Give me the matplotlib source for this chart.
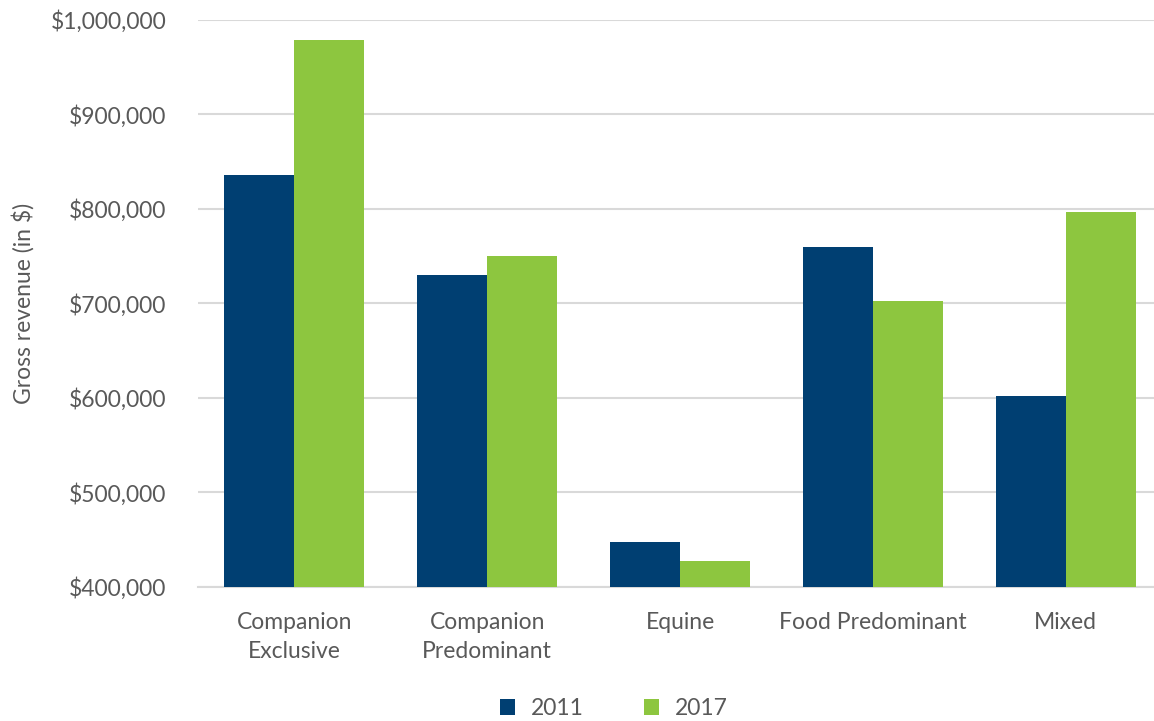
import matplotlib
matplotlib.use("Agg")
from matplotlib import pyplot as plt
from matplotlib.ticker import FuncFormatter
import numpy as np

categories = ["Companion\nExclusive", "Companion\nPredominant", "Equine",
              "Food Predominant", "Mixed"]
rev_2011 = [836000, 730000, 448000, 759500, 602500]
rev_2017 = [978500, 750000, 427500, 703000, 797000]
years = ["2011", "2017"]

navy = "#003F72"
green = "#8DC63F"
grey_text = "#595959"

plt.rcParams["font.family"] = ["Lato", "DejaVu Sans"]

fig = plt.figure(figsize=(11.54, 7.21), dpi=100)
# plot area runs a little past the right edge of the figure
ax = fig.add_axes([0.1716, 0.186, 0.8354, 0.7863])

x = np.arange(len(categories))
w = 0.363
ax.bar(x - w / 2, rev_2011, w, color=navy, label=years[0], zorder=3)
ax.bar(x + w / 2, rev_2017, w, color=green, label=years[1], zorder=3)

ax.set_xlim(-0.5, len(categories) - 0.5)
ax.set_ylim(400000, 1000000)
ax.set_yticks(np.arange(400000, 1000001, 100000))
ax.yaxis.set_major_formatter(FuncFormatter(lambda v, p: f"${v:,.0f}"))
ax.grid(axis="y", color="#d9d9d9", linewidth=1.5, zorder=0)
ax.set_xticks(x)
ax.set_xticklabels(categories, fontsize=16.5, color=grey_text, linespacing=1.45)
ax.tick_params(axis="y", labelsize=16.5, labelcolor=grey_text, length=0, pad=23)
ax.tick_params(axis="x", length=0, pad=18)
for s in ["top", "right", "left"]:
    ax.spines[s].set_visible(False)
ax.spines["bottom"].set_color("#d9d9d9")
ax.spines["bottom"].set_linewidth(1.5)

ax.set_ylabel("Gross revenue (in $)", fontsize=16.5, color=grey_text)
ax.yaxis.set_label_coords(-0.17, 0.5)

fig.legend(loc="lower center", bbox_to_anchor=(0.532, -0.026), ncol=2, frameon=False,
           fontsize=16.5, labelcolor=grey_text, handlelength=0.65, handleheight=0.65,
           columnspacing=2.6, handletextpad=0.7)

fig.savefig("out.png", dpi=100)
